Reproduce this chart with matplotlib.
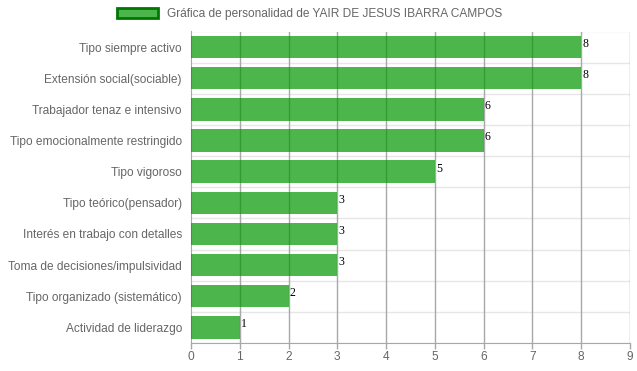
import matplotlib
matplotlib.use("Agg")
import matplotlib.pyplot as plt
from matplotlib.patches import Patch
import numpy as np

categories = [
    "Tipo siempre activo",
    "Extensión social(sociable)",
    "Trabajador tenaz e intensivo",
    "Tipo emocionalmente restringido",
    "Tipo vigoroso",
    "Tipo teórico(pensador)",
    "Interés en trabajo con detalles",
    "Toma de decisiones/impulsividad",
    "Tipo organizado (sistemático)",
    "Actividad de liderazgo",
]
values = [8, 8, 6, 6, 5, 3, 3, 3, 2, 1]
x_ticks = [0, 1, 2, 3, 4, 5, 6, 7, 8, 9]
legend_label = "Gráfica de personalidad de YAIR DE JESUS IBARRA CAMPOS"

plt.rcParams['font.family'] = ['Liberation Sans', 'DejaVu Sans']

fig = plt.figure(figsize=(6.37, 3.71), dpi=100)
ax = fig.add_axes([191/637, 1-343/371, (630-191)/637, (343-31.5)/371])

n = len(categories)
y = np.arange(n)
bar_color = (0/255, 150/255, 0/255, 0.7)
ax.barh(y, values, height=0.72, color=bar_color, zorder=3)

for yi, v in zip(y, values):
    ax.text(v + 0.02, yi - 0.1, str(v), va='center', ha='left',
            fontsize=8.5, family='Liberation Serif', color='black', zorder=4)

ax.set_ylim(n - 0.5, -0.5)
ax.set_xlim(0, 9)
ax.set_xticks(x_ticks)
ax.set_xticklabels([str(t) for t in x_ticks])
ax.set_yticks(y)
ax.set_yticklabels(categories)

# grid lines
for t in x_ticks[1:]:
    ax.axvline(t, color='#a8a8a8', lw=1, zorder=1)
for b in np.arange(-0.5, n, 1.0):
    ax.axhline(b, color='#e6e6e6', lw=1, zorder=0.5)

for s in ['top', 'right']:
    ax.spines[s].set_visible(False)
ax.spines['left'].set_color('#a8a8a8')
ax.spines['bottom'].set_color('#a8a8a8')
ax.spines['left'].set_zorder(2)
ax.tick_params(axis='x', colors='#666666', labelsize=8.6, length=4, width=1, pad=2)
ax.tick_params(axis='x', color='#a8a8a8')
ax.tick_params(axis='y', colors='#666666', labelsize=8.6, length=0, pad=6.5)

handle = Patch(facecolor=bar_color, edgecolor=(0, 120/255, 0), linewidth=2)
fig.legend([handle], [legend_label], loc='center left', bbox_to_anchor=(117/637, 1-14/371),
           frameon=False, fontsize=8.6, handlelength=3.4, handleheight=0.9,
           handletextpad=0.75, labelcolor='#666666', borderpad=0, borderaxespad=0)

fig.savefig("out.png", dpi=100, facecolor='white')
